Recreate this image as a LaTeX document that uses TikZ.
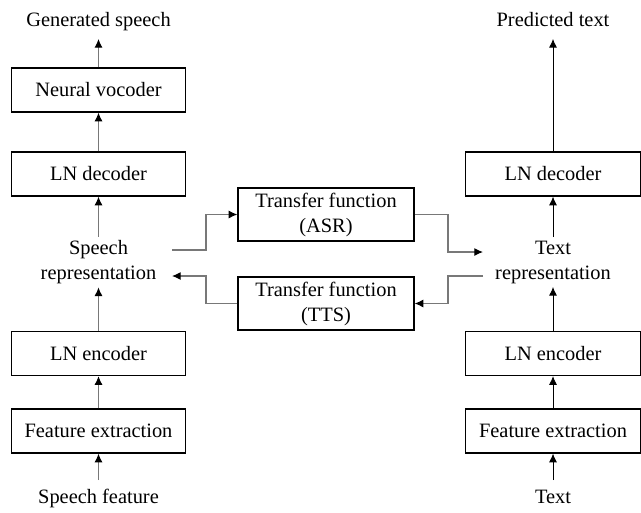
\documentclass[tikz,border=0pt]{standalone}
\usepackage{fontspec}
\setmainfont{Liberation Serif}
\usetikzlibrary{arrows.meta}
\tikzset{
  box/.style={draw=black, line width=0.95pt, minimum width=131pt, minimum height=33pt, inner sep=0pt,
    font=\fontsize{15.3}{18.75}\selectfont},
  tbox/.style={draw=black, line width=0.95pt, minimum width=132pt, minimum height=39.75pt, inner sep=0pt, align=center,
    font=\fontsize{15.3}{18.75}\selectfont},
  lbl/.style={inner sep=6pt, text height=11pt, text depth=3.5pt, font=\fontsize{15.3}{18.75}\selectfont},
  rep/.style={inner sep=2.5pt, align=center, font=\fontsize{15.3}{18.75}\selectfont},
  garr/.style={draw={rgb,255:red,120;green,120;blue,120}, line width=0.85pt, -{Latex[length=6.5pt,width=6pt,color=black]}},
  barr/.style={draw=black, line width=0.6pt, -{Latex[length=6.5pt,width=6pt,color=black]}}
}
\begin{document}
\begin{tikzpicture}[x=0.75pt,y=-0.75pt]
\useasboundingbox (0,0) rectangle (641,512);
% left column
\node[lbl] (gen) at (98.5,21) {Generated speech};
\node[box] (voc) at (98.5,90) {Neural vocoder};
\node[box] (ldec) at (98.5,174) {LN decoder};
\node[rep] (sr) at (98.5,262) {Speech\\representation};
\node[box] (lenc) at (98.5,353.5) {LN encoder};
\node[box] (lfe) at (98.5,431) {Feature extraction};
\node[lbl] (sf) at (98.5,498) {Speech feature};
% right column
\node[lbl] (pt) at (553,21) {Predicted text};
\node[box] (rdec) at (553,174) {LN decoder};
\node[rep] (tr) at (553,262) {Text\\representation};
\node[box] (renc) at (553,353.5) {LN encoder};
\node[box] (rfe) at (553,431) {Feature extraction};
\node[lbl] (tx) at (553,498) {Text};
% center
\node[tbox] (asr) at (326,214.5) {Transfer function\\(ASR)};
\node[tbox] (tts) at (326,303.5) {Transfer function\\(TTS)};
% coordinates
\coordinate (a1) at (172,250);
\coordinate (a2) at (206,250);
\coordinate (b1) at (448,252);
\coordinate (b2) at (483,252);
\coordinate (c1) at (483,276);
\coordinate (c2) at (448,276);
\coordinate (d1) at (206,276);
\coordinate (d2) at (172,276);
% left arrows
\draw[garr] (voc.north) -- (gen.south);
\draw[garr] (ldec.north) -- (voc.south);
\draw[garr] (sr.north) -- (ldec.south);
\draw[garr] (lenc.north) -- (sr.south);
\draw[garr] (lfe.north) -- (lenc.south);
\draw[garr] (sf.north) -- (lfe.south);
% right arrows
\draw[barr] (rdec.north) -- (pt.south);
\draw[barr] (tr.north) -- (rdec.south);
\draw[barr] (renc.north) -- (tr.south);
\draw[barr] (rfe.north) -- (renc.south);
\draw[barr] (tx.north) -- (rfe.south);
% center connectors
\draw[garr] (a1) -- (a2) |- (asr.west);
\draw[garr] (asr.east) -| (b1) -- (b2);
\draw[garr] (c1) -- (c2) |- (tts.east);
\draw[garr] (tts.west) -| (d1) -- (d2);
\end{tikzpicture}
\end{document}
